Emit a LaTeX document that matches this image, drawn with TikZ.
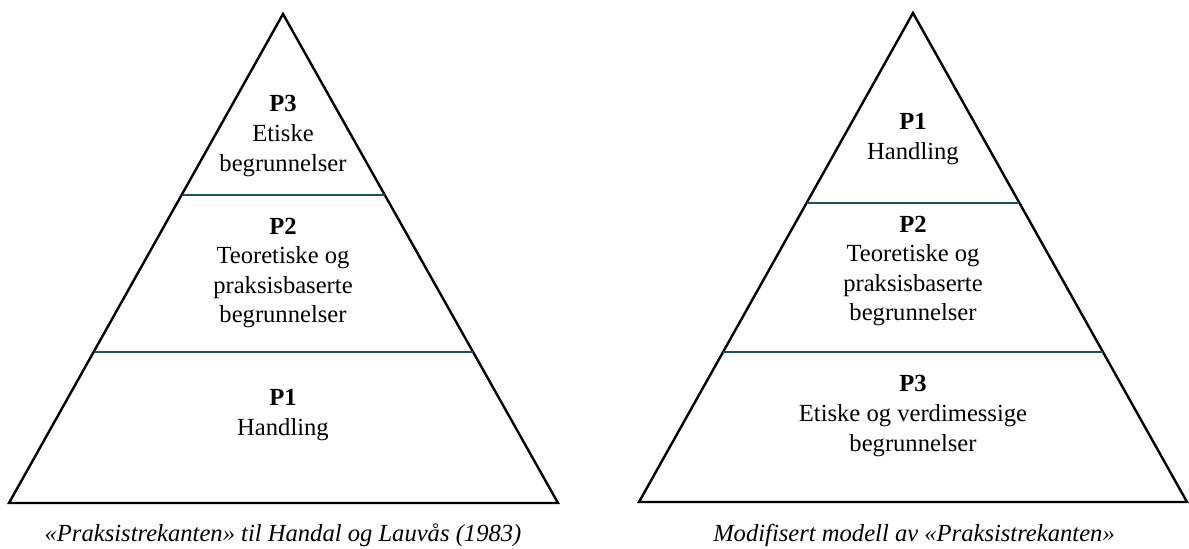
\documentclass[tikz,border=0pt]{standalone}
\usepackage{fontspec}
\setmainfont{Liberation Serif}
\usetikzlibrary{calc}

\definecolor{tealline}{RGB}{30,80,95}

\begin{document}
\begin{tikzpicture}[x=0.5pt,y=-0.5pt,
	outline/.style={line width=1.2pt,line join=miter},
	divider/.style={color=tealline,line width=1pt},
	tier/.style={align=center,font=\fontsize{12.3}{14.8}\selectfont,inner sep=0pt},
	caption/.style={anchor=base,font=\fontsize{12.3}{14.8}\selectfont\itshape,inner sep=0pt}]
	\useasboundingbox (0,0) rectangle (1189,548);

	\coordinate (lt) at (283,14);
	\coordinate (ll) at (9,503);
	\coordinate (lr) at (558,503);

	\coordinate (rt) at (913,13);
	\coordinate (rl) at (639,502);
	\coordinate (rr) at (1187,502);

	\draw [outline] (lt) -- (ll) -- (lr) -- cycle;
	\draw [divider] ($(lt)!0.370!(ll)$) -- ($(lt)!0.370!(lr)$);
	\draw [divider] ($(lt)!0.691!(ll)$) -- ($(lt)!0.691!(lr)$);

	\draw [outline] (rt) -- (rl) -- (rr) -- cycle;
	\draw [divider] ($(rt)!0.3885!(rl)$) -- ($(rt)!0.3885!(rr)$);
	\draw [divider] ($(rt)!0.693!(rl)$) -- ($(rt)!0.693!(rr)$);

	\node [tier] (lp3) at (283,136) {\textbf{P3}\\Etiske\\begrunnelser};
	\node [tier] (lp2) at (283,273) {\textbf{P2}\\Teoretiske og\\praksisbaserte\\begrunnelser};
	\node [tier] (lp1) at (283,415) {\textbf{P1}\\Handling};

	\node [tier] (rp1) at (913,139) {\textbf{P1}\\Handling};
	\node [tier] (rp2) at (913,271) {\textbf{P2}\\Teoretiske og\\praksisbaserte\\begrunnelser};
	\node [tier] (rp3) at (913,416) {\textbf{P3}\\Etiske og verdimessige\\begrunnelser};

	\node [caption] (lcap) at (283,541) {«Praksistrekanten» til Handal og Lauvås (1983)};
	\node [caption] (rcap) at (914,541) {Modifisert modell av «Praksistrekanten»};
\end{tikzpicture}
\end{document}
